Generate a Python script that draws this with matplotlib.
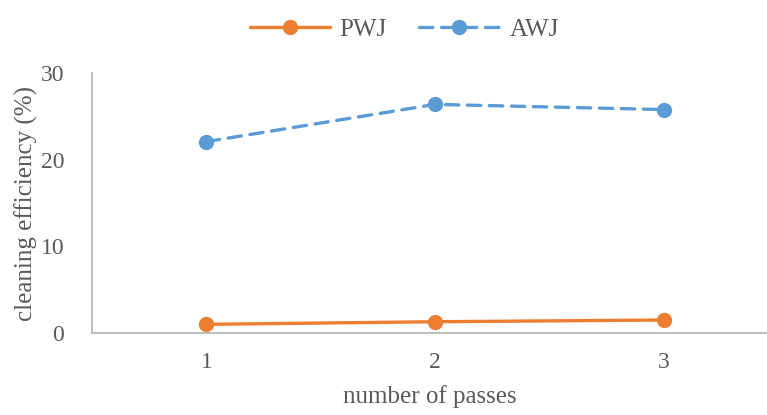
import matplotlib
matplotlib.use("Agg")
import matplotlib.pyplot as plt

plt.rcParams['font.family'] = ['Liberation Serif', 'DejaVu Serif']

passes = [1, 2, 3]
pwj = [1.0, 1.3, 1.5]
awj = [22.1, 26.4, 25.8]

fig = plt.figure(figsize=(7.67, 4.15), dpi=100)
ax = fig.add_axes([0.12, 0.1976, 0.88, 0.626])

ax.plot(passes, pwj, color='#ED7D31', lw=2.4, marker='o', ms=10,
        label='PWJ', solid_capstyle='round')
ax.plot(passes, awj, color='#5B9BD5', lw=2.4, marker='o', ms=10,
        label='AWJ', dashes=(4, 2.6), dash_capstyle='round')

ax.set_xlim(0.5, 3.45)
ax.set_ylim(0, 30)
ax.set_xticks(passes)
ax.set_xticklabels([str(p) for p in passes])
ax.set_yticks([0, 10, 20, 30])

for s in ['top', 'right']:
    ax.spines[s].set_visible(False)
for s in ['left', 'bottom']:
    ax.spines[s].set_color('#BFBFBF')
    ax.spines[s].set_linewidth(1.5)

ax.tick_params(length=0, labelsize=17, colors='#595959')
ax.tick_params(axis='y', pad=20)
ax.tick_params(axis='x', pad=14)

ax.set_xlabel('number of passes', fontsize=18, color='#595959', labelpad=8)
ax.set_ylabel('cleaning efficiency (%)', fontsize=18, color='#595959', labelpad=2)

leg = fig.legend(loc='upper center', bbox_to_anchor=(0.527, 1.01), ncol=2,
                 frameon=False, fontsize=18, handlelength=3.2,
                 columnspacing=1.3, handletextpad=0.4)
for t in leg.get_texts():
    t.set_color('#595959')

fig.savefig('out.png', dpi=100)
